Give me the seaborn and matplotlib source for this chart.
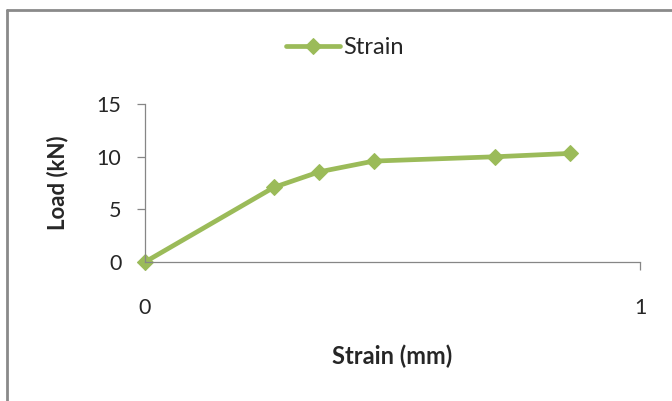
import pandas as pd
import seaborn as sns
import matplotlib.pyplot as plt
from matplotlib.lines import Line2D

strain_mm = [0.0, 0.260, 0.352, 0.462, 0.707, 0.859]
load_kn = [0.0, 7.08, 8.56, 9.58, 9.99, 10.31]
series_name = 'Strain'
y_ticks = [0, 5, 10, 15]
x_ticks = [0, 1]

df = pd.DataFrame({'strain': strain_mm, 'load': load_kn})

sns.set_style('white')
plt.rcParams['font.family'] = ['Lato', 'DejaVu Sans']

green = '#9BBB59'
grey = '#868686'

fig = plt.figure(figsize=(6.72, 4.01), dpi=100)
ax = fig.add_axes([145 / 672, 1 - 262 / 401, 495 / 672, 158 / 401])

sns.lineplot(data=df, x='strain', y='load', ax=ax, color=green, linewidth=3.4,
             marker='D', markersize=8.5, markeredgecolor=green, label=series_name,
             clip_on=False, sort=False)

ax.set_xlim(0, 1)
ax.set_ylim(0, 15)
ax.set_xticks(x_ticks)
ax.set_yticks(y_ticks)
ax.tick_params(axis='y', direction='out', length=6, width=0.9, color=grey,
               pad=11, labelsize=15.5, left=True)
ax.tick_params(axis='x', direction='out', length=6, width=0.9, color=grey,
               pad=20, labelsize=15.5, bottom=True)

for side in ['top', 'right']:
    ax.spines[side].set_visible(False)
for side in ['left', 'bottom']:
    ax.spines[side].set_color(grey)
    ax.spines[side].set_linewidth(0.9)

ax.set_xlabel('Strain (mm)', fontsize=17, fontweight='bold', labelpad=19)
ax.set_ylabel('Load (kN)', fontsize=16, fontweight='bold', labelpad=20)

ax.legend(loc='center', bbox_to_anchor=(345 / 672, 1 - 48 / 401),
          bbox_transform=fig.transFigure, frameon=False, fontsize=17,
          handlelength=2.3, handletextpad=0.12)

# chart frame (only top and left edges visible in crop)
fig.add_artist(Line2D([7 / 672, 7 / 672], [0, 1 - 10 / 401], transform=fig.transFigure,
                      color='#8a8a8a', linewidth=2))
fig.add_artist(Line2D([7 / 672, 1], [1 - 10 / 401, 1 - 10 / 401], transform=fig.transFigure,
                      color='#8a8a8a', linewidth=2))

fig.savefig('out.png', dpi=100)
